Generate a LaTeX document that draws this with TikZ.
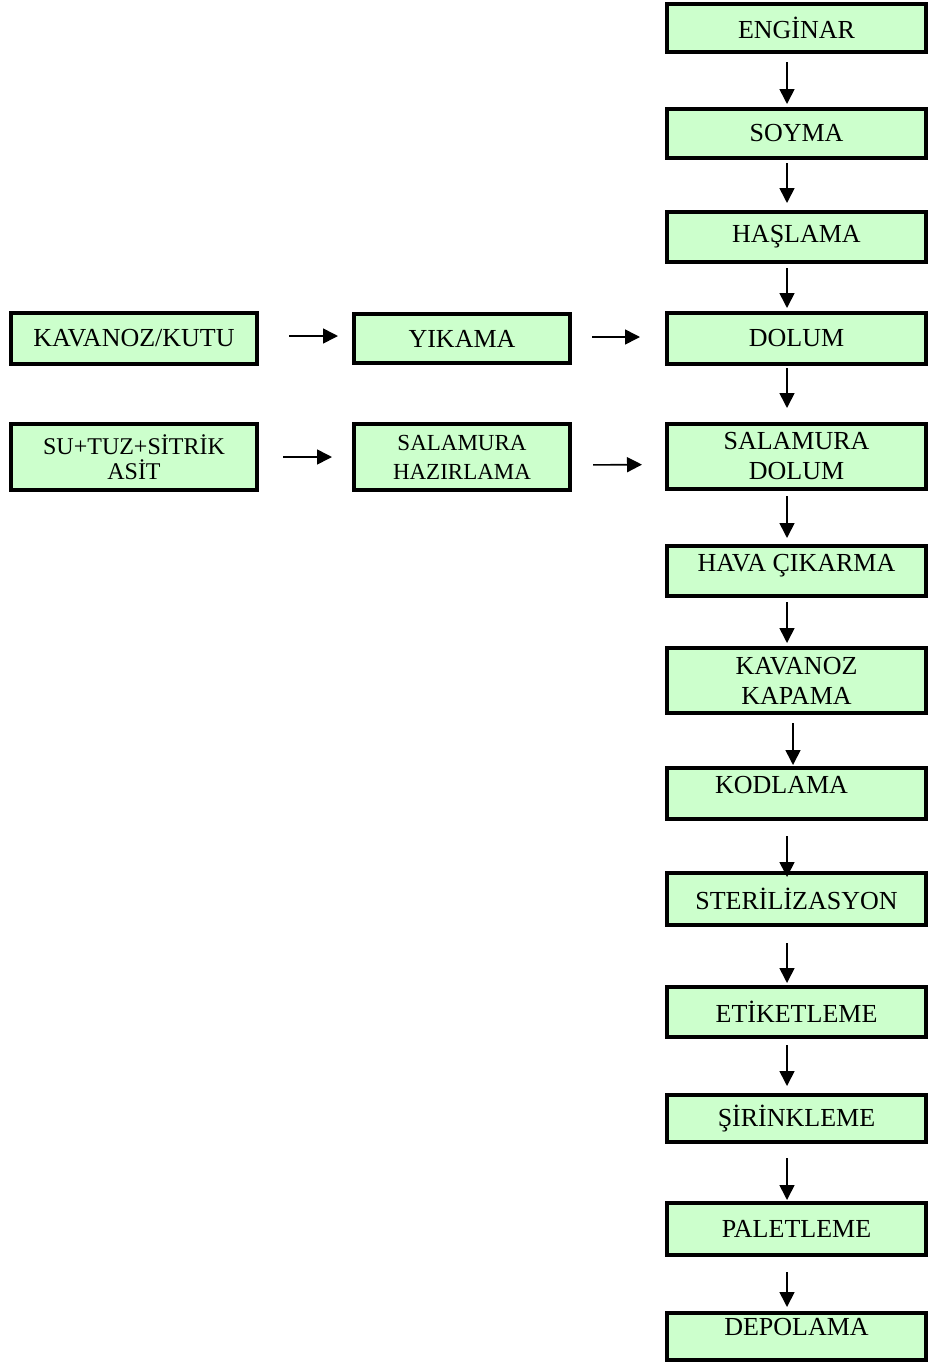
\documentclass[tikz,border=0pt]{standalone}
\usepackage{fontspec}
\setmainfont{Liberation Serif}
\usepackage{xcolor}
\usetikzlibrary{arrows.meta}
\definecolor{boxgreen}{RGB}{204,255,204}
\tikzset{
  box/.style={draw, line width=2pt, fill=boxgreen, inner sep=0pt, align=center,
    font=\fontsize{13}{15}\selectfont},
  col/.style={box, minimum width=129.5pt},
  flow/.style={-{Triangle[length=7.5pt,width=7.5pt]}, line width=0.8pt},
  lift/.style={text height=8.6pt, text depth=#1}
}

\begin{document}
\begin{tikzpicture}[x=0.5pt,y=-0.5pt]
  \useasboundingbox (0,0) rectangle (929,1365);
  % main line
  \node[col, minimum height=24pt] (enginar) at (796.5,28) {ENGİNAR};
  \node[col, minimum height=24.5pt] (soyma) at (796.5,133.5) {SOYMA};
  \node[col, minimum height=25pt] (haslama) at (796.5,237) {HAŞLAMA};
  \node[col, minimum height=25.5pt] (dolum) at (796.5,338.5) {DOLUM};
  \node[col, minimum height=32.5pt] (saldolum) at (796.5,456.5) {SALAMURA\\DOLUM};
  \node[col, minimum height=25pt, lift=8.5pt] (hava) at (796.5,571) {HAVA ÇIKARMA};
  \node[col, minimum height=32.5pt] (kapama) at (796.5,680.5) {KAVANOZ\\KAPAMA};
  \node[col, minimum height=25.5pt, lift=8.5pt] (kodlama) at (796.5,793.5) {KODLAMA\hspace*{15pt}};
  \node[col, minimum height=26pt] (steril) at (796.5,899) {STERİLİZASYON};
  \node[col, minimum height=25pt] (etiket) at (796.5,1012) {ETİKETLEME};
  \node[col, minimum height=23.5pt] (sirink) at (796.5,1118.5) {ŞİRİNKLEME};
  \node[col, minimum height=26pt] (palet) at (796.5,1229) {PALETLEME};
  \node[col, minimum height=23.5pt, lift=10pt] (depo) at (796.5,1336.5) {DEPOLAMA};
  % side lines
  \node[box, minimum width=123pt, minimum height=25.5pt] (kutu) at (134,338.5) {KAVANOZ/KUTU};
  \node[box, minimum width=108pt, minimum height=24.5pt] (yikama) at (462,338.5) {YIKAMA};
  \node[box, minimum width=123pt, minimum height=33pt,
    font=\fontsize{12}{12.5}\selectfont] (sutuz) at (134,457) {SU+TUZ+SİTRİK\\ASİT};
  \node[box, minimum width=108pt, minimum height=33pt,
    font=\fontsize{11.5}{14.5}\selectfont] (salhaz) at (462,457) {SALAMURA\\HAZIRLAMA};
  % arrows
  \draw[flow, shorten <=4pt, shorten >=1.5pt] ([xshift=-4.75pt]enginar.south) to ([xshift=-4.75pt]soyma.north);
  \draw[flow, shorten <=1.5pt, shorten >=3.5pt] ([xshift=-4.75pt]soyma.south) to ([xshift=-4.75pt]haslama.north);
  \draw[flow, shorten <=2pt, shorten >=1.5pt] ([xshift=-4.75pt]haslama.south) to ([xshift=-4.75pt]dolum.north);
  \draw[flow, shorten <=1pt, shorten >=7pt] ([xshift=-4.75pt]dolum.south) to ([xshift=-4.75pt]saldolum.north);
  \draw[flow, shorten <=2.5pt, shorten >=3pt] ([xshift=-4.75pt]saldolum.south) to ([xshift=-4.75pt]hava.north);
  \draw[flow, shorten <=2pt, shorten >=1.5pt] ([xshift=-4.75pt]hava.south) to ([xshift=-4.75pt]kapama.north);
  \draw[flow, shorten <=4pt, shorten >=0.5pt] ([xshift=-1.75pt]kapama.south) to ([xshift=-1.75pt]kodlama.north);
  \draw[flow, shorten <=7.5pt, shorten >=-3pt] ([xshift=-4.75pt]kodlama.south) to ([xshift=-4.75pt]steril.north);
  \draw[flow, shorten <=8pt, shorten >=1pt] ([xshift=-4.75pt]steril.south) to ([xshift=-4.75pt]etiket.north);
  \draw[flow, shorten <=3pt, shorten >=3.5pt] ([xshift=-4.75pt]etiket.south) to ([xshift=-4.75pt]sirink.north);
  \draw[flow, shorten <=7pt, shorten >=0.5pt] ([xshift=-4.75pt]sirink.south) to ([xshift=-4.75pt]palet.north);
  \draw[flow, shorten <=7.5pt, shorten >=2pt] ([xshift=-4.75pt]palet.south) to ([xshift=-4.75pt]depo.north);
  \draw[flow, shorten <=15pt, shorten >=7pt] ([yshift=1.25pt]kutu.east) to ([yshift=1.25pt]yikama.west);
  \draw[flow, shorten <=10pt, shorten >=12.5pt] ([yshift=0.75pt]yikama.east) to ([yshift=0.75pt]dolum.west);
  \draw[flow, shorten <=12pt, shorten >=10pt] (sutuz.east) to (salhaz.west);
  \draw[flow, shorten <=10.5pt, shorten >=11.5pt] ([yshift=-4pt]salhaz.east) to ([yshift=-4pt]saldolum.west);
\end{tikzpicture}
\end{document}
